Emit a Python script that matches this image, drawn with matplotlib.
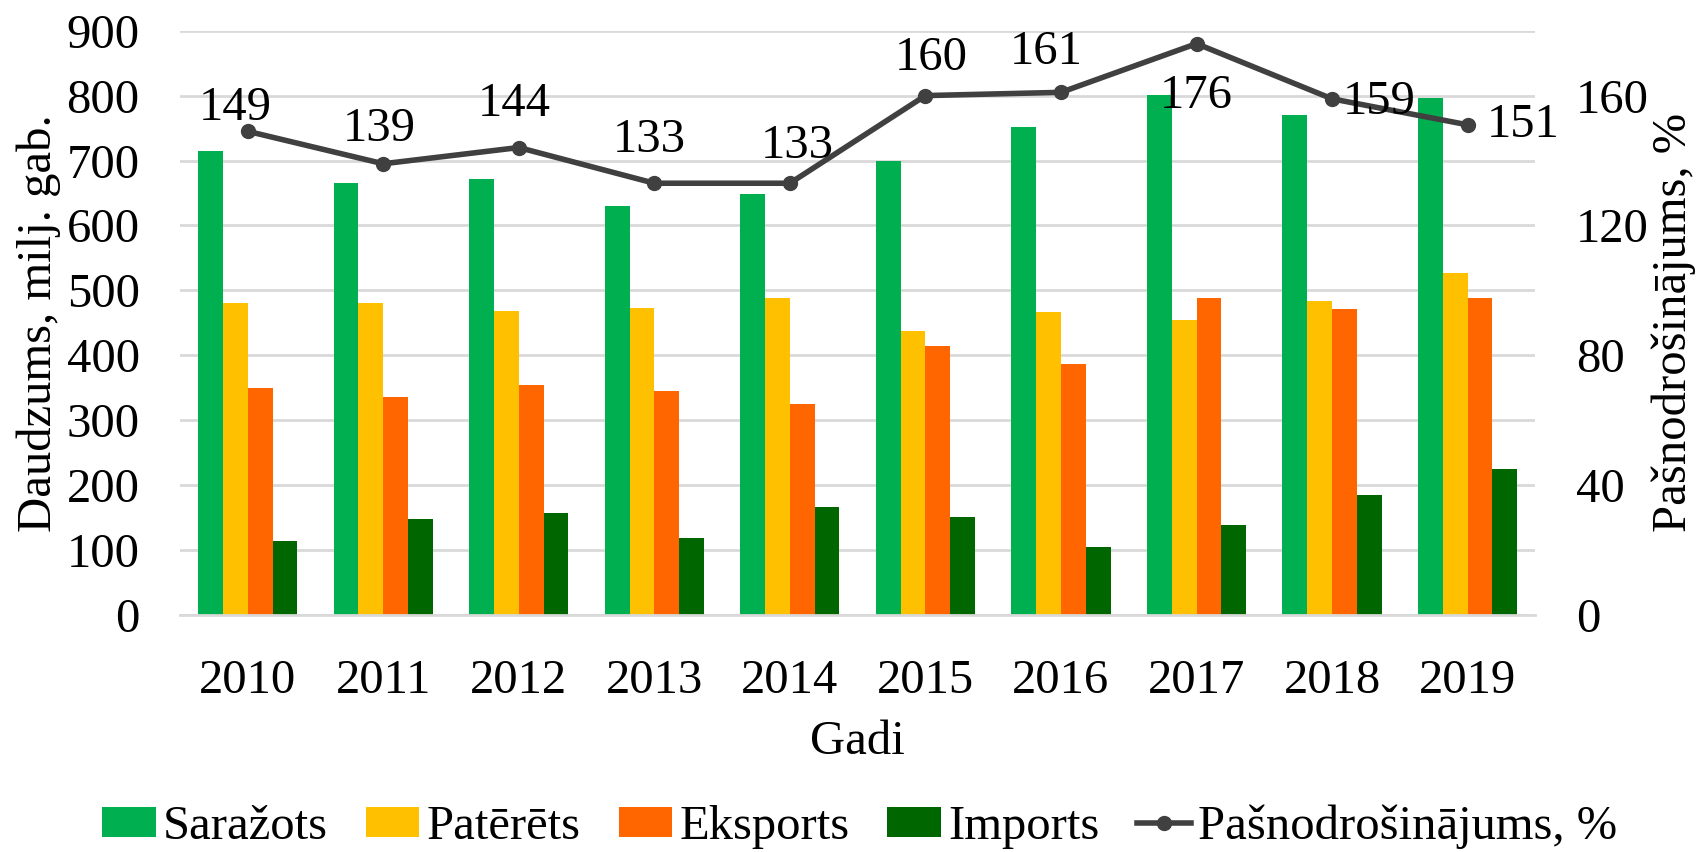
import matplotlib
matplotlib.use("Agg")
import matplotlib.pyplot as plt
import numpy as np
from matplotlib.patches import Patch
from matplotlib.lines import Line2D

years = ["2010", "2011", "2012", "2013", "2014", "2015", "2016", "2017", "2018", "2019"]
sarazots = [715, 665, 672, 630, 649, 699, 751, 801, 770, 796]
pateretss = [480, 480, 468, 473, 488, 437, 466, 454, 484, 526]
eksports = [349, 336, 354, 345, 325, 414, 387, 489, 471, 488]
imports = [114, 148, 157, 118, 166, 151, 105, 138, 185, 225]
pasnodr = [149, 139, 144, 133, 133, 160, 161, 176, 159, 151]

series_names = ["Saražots", "Patērēts", "Eksports", "Imports"]
line_name = "Pašnodrošinājums, %"
colors = ["#00B050", "#FFC000", "#FF6600", "#006600"]
line_color = "#404040"
grid_color = "#D9D9D9"

# label offsets in points (dx, dy) relative to each line point
label_offsets = [(-9, 17), (-3, 25), (-3, 31), (-4, 31), (5, 27), (4, 27), (-11, 29), (0, -38), (34, -2), (40, 0)]

plt.rcParams['font.family'] = ['Liberation Serif', 'DejaVu Serif']
FS = 35

fig = plt.figure(figsize=(16.99, 8.52), dpi=100)
ax = fig.add_axes([0.1059, 0.2782, 0.7978, 0.6858])
ax2 = ax.twinx()

x = np.arange(len(years))
bw = 0.183
data = [sarazots, pateretss, eksports, imports]
for i, (vals, c) in enumerate(zip(data, colors)):
    ax.bar(x + (i - 1.5) * bw, vals, width=bw, color=c, zorder=2)

ax.set_xlim(-0.5, len(years) - 0.5)
ax.set_ylim(0, 900)
ax.set_yticks(np.arange(0, 901, 100))
ax.set_xticks(x)
ax.set_xticklabels(years)
ax.yaxis.grid(True, color=grid_color, linewidth=2, zorder=0)
ax.set_axisbelow(True)
for s in ["top", "right", "left"]:
    ax.spines[s].set_visible(False)
ax.spines["bottom"].set_color(grid_color)
ax.spines["bottom"].set_linewidth(2)
ax.tick_params(axis="both", length=0, labelsize=FS)
ax.tick_params(axis="y", pad=29)
ax.tick_params(axis="x", pad=32)
ax.set_ylabel("Daudzums, milj. gab.", fontsize=FS, labelpad=4)
ax.set_xlabel("Gadi", fontsize=FS, labelpad=12)

ax2.plot(x, pasnodr, color=line_color, linewidth=4, marker="o", markersize=10, zorder=3)
ax2.set_ylim(0, 180)
ax2.set_yticks(np.arange(0, 161, 40))
for s in ["top", "right", "left", "bottom"]:
    ax2.spines[s].set_visible(False)
ax2.tick_params(axis="y", length=0, labelsize=FS, pad=29)
ax2.set_ylabel(line_name, fontsize=FS, labelpad=2)

for xi, v, (dx, dy) in zip(x, pasnodr, label_offsets):
    ax2.annotate(str(v), (xi, v), xytext=(dx, dy), textcoords="offset points",
                 ha="center", va="center", fontsize=FS, color="black", zorder=4)

handles = [Patch(facecolor=c, edgecolor="none") for c in colors]
handles.append(Line2D([0], [0], color=line_color, linewidth=4, marker="o", markersize=10))
labels = series_names + [line_name]
fig.legend(handles, labels, loc="center", bbox_to_anchor=(0.506, 0.0293), ncol=5, frameon=False,
           fontsize=FS, handlelength=1.1, handleheight=0.55, handletextpad=0.15,
           columnspacing=0.78, borderpad=0.1)

fig.savefig("out.png", dpi=100)
